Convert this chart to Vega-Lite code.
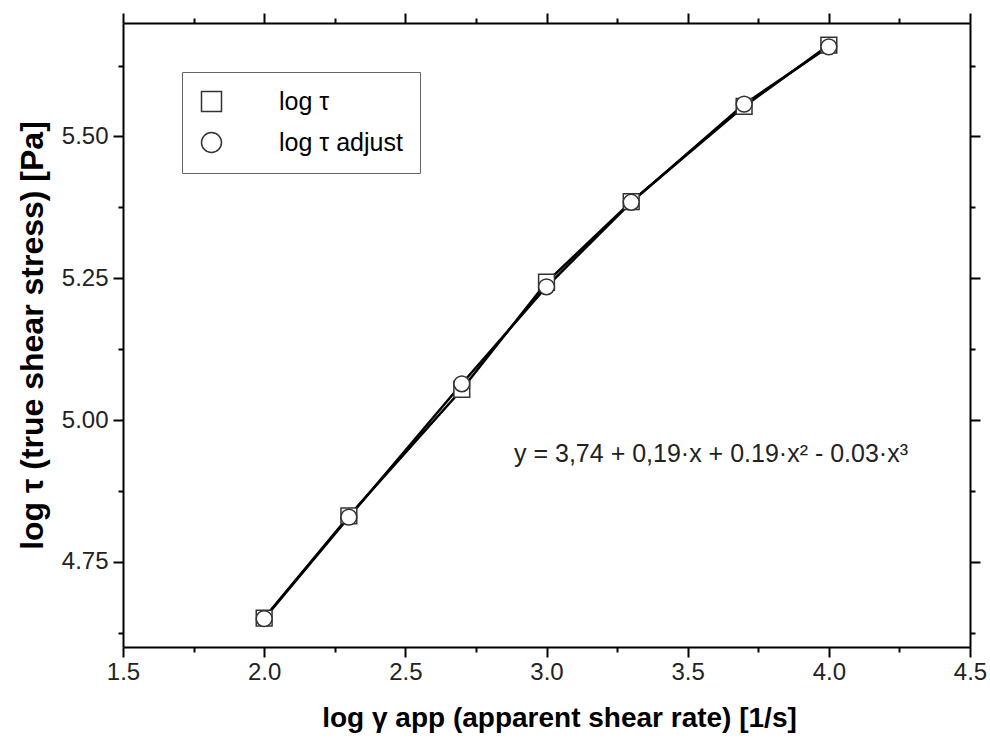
{
  "$schema": "https://vega.github.io/schema/vega-lite/v6.json",
  "width": 847,
  "height": 624,
  "autosize": {"type": "none"},
  "padding": {"left": 123, "top": 23, "right": 20, "bottom": 99},
  "background": "white",
  "config": {
    "view": {"stroke": null},
    "font": "Liberation Sans",
    "axis": {
      "domainColor": "black",
      "domainWidth": 2,
      "tickColor": "black",
      "tickWidth": 2,
      "grid": false,
      "labelFont": "Liberation Sans",
      "labelFontSize": 24,
      "labelColor": "#222",
      "titleFont": "Liberation Sans",
      "titleFontSize": 28,
      "titleFontWeight": "bold",
      "titleColor": "black"
    }
  },
  "datasets": {
    "pts": [
      {"series": "log τ", "x": 2.0, "y": 4.651},
      {"series": "log τ", "x": 2.3, "y": 4.831},
      {"series": "log τ", "x": 2.7, "y": 5.054},
      {"series": "log τ", "x": 3.0, "y": 5.243},
      {"series": "log τ", "x": 3.3, "y": 5.385},
      {"series": "log τ", "x": 3.7, "y": 5.553},
      {"series": "log τ", "x": 4.0, "y": 5.661},
      {"series": "log τ adjust", "x": 2.0, "y": 4.650},
      {"series": "log τ adjust", "x": 2.3, "y": 4.829},
      {"series": "log τ adjust", "x": 2.7, "y": 5.064},
      {"series": "log τ adjust", "x": 3.0, "y": 5.235},
      {"series": "log τ adjust", "x": 3.3, "y": 5.384},
      {"series": "log τ adjust", "x": 3.7, "y": 5.557},
      {"series": "log τ adjust", "x": 4.0, "y": 5.658}
    ],
    "ann": [
      {"x": 2.885, "y": 4.94, "label": "y = 3,74 + 0,19·x + 0.19·x² - 0.03·x³"}
    ]
  },
  "resolve": {"axis": {"x": "independent", "y": "independent"}},
  "layer": [
    {
      "data": {"name": "pts"},
      "mark": {"type": "line", "color": "black", "strokeWidth": 2.5},
      "encoding": {
        "x": {
          "field": "x", "type": "quantitative",
          "scale": {"domain": [1.5, 4.5], "nice": false, "zero": false},
          "axis": {
            "orient": "bottom",
            "title": "log γ app (apparent shear rate) [1/s]",
            "titleX": 436,
            "values": [1.5, 1.75, 2.0, 2.25, 2.5, 2.75, 3.0, 3.25, 3.5, 3.75, 4.0, 4.25, 4.5],
            "labelExpr": "datum.value % 0.5 === 0 ? format(datum.value, '.1f') : ''",
            "tickSize": {"condition": {"test": "datum.value % 0.5 === 0", "value": 10}, "value": 5},
            "labelPadding": 3,
            "titlePadding": 20,
            "labelFlush": false,
            "labelOverlap": false
          }
        },
        "y": {
          "field": "y", "type": "quantitative",
          "scale": {"domain": [4.6, 5.7], "nice": false, "zero": false},
          "axis": {
            "orient": "left",
            "title": "log τ (true shear stress) [Pa]",
            "titleFontSize": 32,
            "values": [4.625, 4.75, 4.875, 5.0, 5.125, 5.25, 5.375, 5.5, 5.625],
            "labelExpr": "datum.value % 0.25 === 0 ? format(datum.value, '.2f') : ''",
            "tickSize": {"condition": {"test": "datum.value % 0.25 === 0", "value": 10}, "value": 5},
            "labelPadding": 5,
            "titlePadding": 12,
            "labelFlush": false,
            "labelOverlap": false
          }
        },
        "detail": {"field": "series"}
      }
    },
    {
      "data": {"name": "pts"},
      "mark": {"type": "point", "filled": true, "fill": "white", "stroke": "#333", "strokeWidth": 1.5, "opacity": 1, "size": 250},
      "encoding": {
        "x": {
          "field": "x", "type": "quantitative",
          "scale": {"domain": [1.5, 4.5], "nice": false, "zero": false},
          "axis": {
            "orient": "top", "title": null, "labels": false,
            "values": [1.5, 1.75, 2.0, 2.25, 2.5, 2.75, 3.0, 3.25, 3.5, 3.75, 4.0, 4.25, 4.5],
            "tickSize": {"condition": {"test": "datum.value % 0.5 === 0", "value": 10}, "value": 5}
          }
        },
        "y": {
          "field": "y", "type": "quantitative",
          "scale": {"domain": [4.6, 5.7], "nice": false, "zero": false},
          "axis": {
            "orient": "right", "title": null, "labels": false,
            "values": [4.625, 4.75, 4.875, 5.0, 5.125, 5.25, 5.375, 5.5, 5.625],
            "tickSize": {"condition": {"test": "datum.value % 0.25 === 0", "value": 10}, "value": 5}
          }
        },
        "shape": {
          "field": "series", "type": "nominal",
          "scale": {"domain": ["log τ", "log τ adjust"], "range": ["square", "circle"]},
          "legend": {
            "title": null,
            "orient": "none",
            "legendX": 59,
            "legendY": 49,
            "padding": 17,
            "strokeColor": "#666",
            "fillColor": "white",
            "labelFont": "Liberation Sans",
            "labelFontSize": 25,
            "labelColor": "black",
            "labelOffset": 55,
            "symbolSize": 400,
            "rowPadding": 14
          }
        }
      }
    },
    {
      "data": {"name": "ann"},
      "mark": {"type": "text", "align": "left", "baseline": "middle", "font": "Liberation Sans", "fontSize": 25, "color": "#222"},
      "encoding": {
        "x": {"field": "x", "type": "quantitative", "scale": {"domain": [1.5, 4.5], "nice": false, "zero": false}, "axis": null},
        "y": {"field": "y", "type": "quantitative", "scale": {"domain": [4.6, 5.7], "nice": false, "zero": false}, "axis": null},
        "text": {"field": "label"}
      }
    }
  ]
}
